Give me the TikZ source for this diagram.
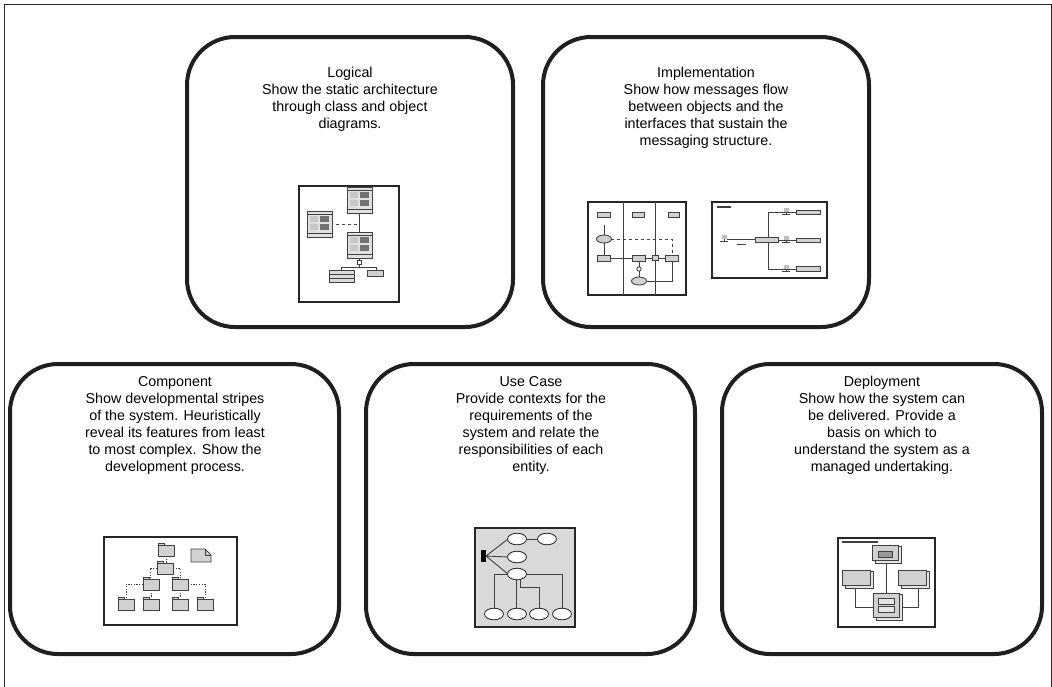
\documentclass[tikz,border=0pt]{standalone}
\usepackage{fontspec}
\setmainfont{Liberation Sans}
\begin{document}
\begin{tikzpicture}[x=1pt,y=-1pt,
  bigbox/.style={draw=black!88,line width=4pt,rounded corners=48pt},
  txt/.style={anchor=north,align=center,font=\fontsize{14.3}{17}\selectfont,inner sep=0pt,text=black},
  iconframe/.style={draw=black!85,line width=2pt},
  ln/.style={draw=black!75,line width=0.9pt},
  dsh/.style={draw=black!75,line width=0.9pt,dash pattern=on 3pt off 3pt},
  dot/.style={draw=black!75,line width=0.9pt,dash pattern=on 1.2pt off 1.5pt},
  gbox/.style={draw=black!75,fill=black!18,line width=0.9pt},
]
\useasboundingbox (0,0) rectangle (1052,686);
\draw[black!85,line width=1pt] (4,4) rectangle (1051,700);

% ---------- big boxes ----------
\draw[bigbox] (187,37) rectangle (513,327);
\draw[bigbox] (543,37) rectangle (869,327);
\draw[bigbox] (10,364) rectangle (339,654);
\draw[bigbox] (366,364) rectangle (695,654);
\draw[bigbox] (722,364) rectangle (1042,654);

\node[txt] (tlog) at (350,67) {Logical\\Show the static architecture\\through class and object\\diagrams.};
\node[txt] (timp) at (706,67) {Implementation\\Show how messages flow\\between objects and the\\interfaces that sustain the\\messaging structure.};
\node[txt] (tcom) at (175,376) {Component\\Show developmental stripes\\of the system. Heuristically\\reveal its features from least\\to most complex. Show the\\development process.};
\node[txt] (tuse) at (531,376) {Use Case\\Provide contexts for the\\requirements of the\\system and relate the\\responsibilities of each\\entity.};
\node[txt] (tdep) at (882,376) {Deployment\\Show how the system can\\be delivered. Provide a\\basis on which to\\understand the system as a\\managed undertaking.};

% ---------- Logical icon ----------
\draw[iconframe] (299,186) rectangle (399,302);
\newcommand\classbox[2]{%
  \begin{scope}[shift={(#1,#2)}]
  \draw[draw=black!75,fill=black!12,line width=0.9pt] (0,0) rectangle (25,26);
  \fill[black!22] (3,5) rectangle (11,11);
  \fill[black!55] (13,5) rectangle (22,11);
  \fill[black!22] (3,13) rectangle (11,19);
  \fill[black!55] (13,13) rectangle (22,19);
  \draw[black!75,line width=0.6pt] (0,3) -- (25,3) (0,22) -- (25,22);
  \end{scope}}
\classbox{347}{187}
\classbox{307}{211}
\classbox{347}{232}
\draw[ln] (359.5,213) -- (359.5,232);
\draw[dsh] (336,224) -- (359.5,224);
\draw[ln,fill=white] (357.5,260) rectangle (361.5,264);
\draw[ln] (359.5,258) -- (359.5,260) (359.5,264) -- (359.5,267) (341,267) -- (376,267) (341,267) -- (341,270) (376,267) -- (376,270);
\draw[draw=black!75,fill=black!15,line width=0.9pt] (329,270) rectangle (354,282);
\draw[black!75,line width=0.6pt] (329,274) -- (354,274) (329,278) -- (354,278);
\draw[gbox] (367,270) rectangle (383,276);

% ---------- Implementation icon 1 ----------
\draw[iconframe] (588,202) rectangle (686,295);
\draw[ln] (623,202) -- (623,295) (655,202) -- (655,295);
\draw[gbox] (597,212) rectangle (610,217);
\draw[gbox] (632,212) rectangle (644,217);
\draw[gbox] (668,212) rectangle (679,217);
\draw[ln] (604,225) -- (604,255);
\draw[dsh] (611,239) -- (672,239) -- (672,255);
\draw[gbox] (604,239) ellipse (7.5 and 4);
\draw[ln] (609,258) -- (665,258);
\draw[gbox] (597,255) rectangle (610,261);
\draw[gbox] (632,255) rectangle (645,261);
\draw[gbox] (652,255.5) rectangle (658,260.5);
\draw[gbox] (665,255) rectangle (678,261);
\draw[ln] (639,261) -- (639,277) (647,281) -- (672,281) -- (672,261);
\draw[ln,fill=white] (639,269) circle (2.2);
\draw[gbox] (639,281) ellipse (7.5 and 4);

% ---------- Implementation icon 2 ----------
\draw[iconframe] (712,202) rectangle (827,278);
\draw[black!75,line width=1.2pt] (717,207) -- (731,207);
\draw[ln] (727,239) -- (755,239);
\draw[ln] (737,244) -- (746,244);
\draw[ln] (768,212) -- (768,269);
\draw[ln] (768,212) -- (796,212) (778,240) -- (796,240) (768,269) -- (796,269);
\draw[gbox] (755,237.5) rectangle (778,242);
\draw[gbox] (796,210) rectangle (820,214.5);
\draw[gbox] (796,238) rectangle (820,242.5);
\draw[gbox] (796,266.5) rectangle (820,271);
\foreach \px/\py in {724/241, 786/214, 786/242, 786/271}{
  \fill[black!25] (\px-2.5,\py-6) rectangle (\px+2.5,\py-2);
  \draw[ln] (\px,\py-2) -- (\px,\py) (\px-4,\py) -- (\px+4,\py);
}

% ---------- Component icon ----------
\draw[iconframe] (104,537) rectangle (237,625);
\newcommand\folder[2]{%
  \draw[gbox] (#1,#2) rectangle ++(16,11);
  \draw[draw=black!75,fill=black!18,line width=0.9pt] (#1,#2) rectangle ++(6,-2);}
\draw[dot] (166,556) -- (166,563);
\draw[dot] (157,568) -- (150,568) -- (150,579);
\draw[dot] (173,568) -- (180,568) -- (180,579);
\draw[dot] (143,584) -- (126,584) -- (126,598);
\draw[dot] (151,590) -- (151,598);
\draw[dot] (180,590) -- (180,598);
\draw[dot] (188,584) -- (205,584) -- (205,598);
\folder{158}{545}
\folder{157}{563}
\folder{143}{579}
\folder{172}{579}
\folder{118}{599}
\folder{143}{599}
\folder{172}{599}
\folder{197}{599}
\draw[gbox] (191,549) -- (205,549) -- (211,555) -- (211,562) -- (191,562) -- cycle;
\draw[ln] (205,549) -- (205,555) -- (211,555);

% ---------- Use Case icon ----------
\draw[iconframe,fill=black!15] (475,528) rectangle (575,627);
\fill[black] (481,550) rectangle (486,562);
\draw[ln] (486,556) -- (508,539) (486,556) -- (508,557) (486,556) -- (508,574);
\draw[ln] (526,539) -- (538,539);
\draw[ln] (508,574) -- (494,574) -- (494,614);
\draw[ln] (526,574) -- (562,574) -- (562,614);
\draw[ln] (516,578) -- (516,614);
\draw[ln] (520,578) -- (520,587) -- (539,587) -- (539,614);
\foreach \ex/\ey in {517/539, 547/539, 517/557, 517/574, 494/614, 517/614, 539/614, 562/614}{
  \draw[draw=black!80,fill=white,line width=0.9pt] (\ex,\ey) ellipse (9.5 and 5.8);
}

% ---------- Deployment icon ----------
\draw[iconframe] (838,538) rectangle (935,627);
\draw[black!75,line width=1.2pt] (842,542) -- (878,542);
\draw[ln] (886,560) -- (886,593);
\draw[ln] (855,585) -- (855,607) -- (873,607);
\draw[ln] (918,585) -- (918,607) -- (902,607);
\newcommand\dnode[4]{%
  \draw[draw=black!75,fill=black!10,line width=0.9pt] (#1+3,#2+1) rectangle (#3+3,#4+3);
  \draw[gbox] (#1,#2) rectangle (#3,#4);}
\dnode{872}{545}{898}{560}
\draw[draw=black!75,fill=black!40,line width=0.8pt] (878,551) rectangle (892,557);
\dnode{842}{570}{870}{585}
\dnode{898}{570}{926}{585}
\dnode{873}{593}{899}{617}
\draw[draw=black!75,fill=black!10,line width=0.8pt] (878,598) rectangle (894,604);
\draw[draw=black!75,fill=black!10,line width=0.8pt] (878,606) rectangle (894,612);
\end{tikzpicture}
\end{document}
